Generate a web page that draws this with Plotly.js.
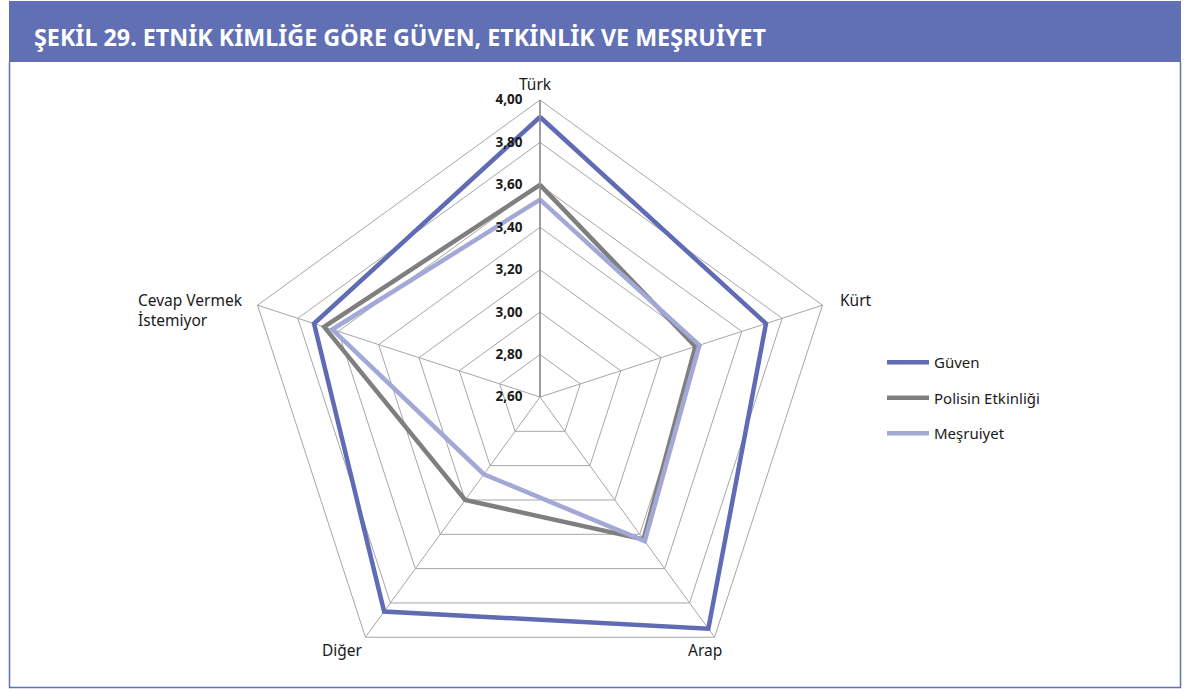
<!DOCTYPE html>
<html>
<head>
<meta charset="utf-8">
<script src="https://cdn.plot.ly/plotly-3.0.1.min.js"></script>
<style>
html,body{margin:0;padding:0;background:#fff;overflow:hidden;}
#chart{width:1184px;height:720px;}
</style>
</head>
<body>
<div id="chart"></div>
<script>
// ---- data ----
const categories = ['Türk', 'Kürt', 'Arap', 'Diğer', 'Cevap Vermek İstemiyor'];
const categoryLabels = ['Türk', 'Kürt', 'Arap', 'Diğer', 'Cevap Vermek<br>İstemiyor'];
const seriesNames = ['Güven', 'Polisin Etkinliği', 'Meşruiyet'];
const guven = [3.92, 3.72, 3.95, 3.85, 3.72];
const polisinEtkinligi = [3.60, 3.37, 3.43, 3.20, 3.67];
const mesruiyet = [3.53, 3.39, 3.44, 3.05, 3.63];
const radialTicks = [2.6, 2.8, 3.0, 3.2, 3.4, 3.6, 3.8, 4.0];
const titleText = 'ŞEKİL 29. ETNİK KİMLİĞE GÖRE GÜVEN, ETKİNLİK VE MEŞRUİYET';

// ---- layout helpers ----
const W = 1184, H = 720;
const px = x => x / W;
const py = y => (H - y) / H;
const cx = 540, cy = 397, R = 297;
const colors = ['#5F6BB3', '#7F7F7F', '#A3A9D6'];
const band = '#6170B4';
const FONT = 'Noto Sans, sans-serif';

function closed(a) { return a.concat([a[0]]); }
const allSeries = [guven, polisinEtkinligi, mesruiyet];

const traces = allSeries.map((vals, i) => ({
  type: 'scatterpolar',
  mode: 'lines',
  r: closed(vals),
  theta: closed(categories),
  name: seriesNames[i],
  legendgroup: 'g' + i,
  line: {color: colors[i], width: 4.5},
  hoverinfo: 'skip'
}));

// category label placement (text positions around the pentagon)
const catPos = [
  {x: 535, y: 84, xa: 'center'},
  {x: 838, y: 300, xa: 'left'},
  {x: 705, y: 650, xa: 'center'},
  {x: 342, y: 650, xa: 'center'},
  {x: 136, y: 310, xa: 'left'}
];

const annotations = [
  {text: '<b>' + titleText + '</b>', xref: 'paper', yref: 'paper', x: px(32), y: py(37),
    xanchor: 'left', yanchor: 'middle', showarrow: false,
    font: {family: FONT, size: 23.3, color: '#ffffff'}}
].concat(categoryLabels.map((t, i) => ({
  text: t, xref: 'paper', yref: 'paper', x: px(catPos[i].x), y: py(catPos[i].y),
  xanchor: catPos[i].xa, yanchor: 'middle', align: 'left', showarrow: false,
  font: {family: FONT, size: 15.5, color: '#1a1a1a'}
})));

const layout = {
  width: W, height: H,
  margin: {l: 0, r: 0, t: 0, b: 0, pad: 0},
  paper_bgcolor: '#ffffff',
  separators: ',.',
  font: {family: FONT, size: 14, color: '#1a1a1a'},
  showlegend: true,
  legend: {
    x: px(882), y: py(346), xanchor: 'left', yanchor: 'top',
    traceorder: 'grouped', tracegroupgap: 13,
    itemwidth: 42,
    font: {family: FONT, size: 15, color: '#1a1a1a'},
    bgcolor: 'rgba(0,0,0,0)'
  },
  polar: {
    domain: {x: [px(cx - R), px(cx + R)], y: [py(cy + R), py(cy - R)]},
    gridshape: 'linear',
    bgcolor: 'rgba(0,0,0,0)',
    radialaxis: {
      range: [2.6, 4.0],
      tickvals: radialTicks,
      tickformat: '.2f',
      angle: 90,
      side: 'counterclockwise',
      tickangle: 90,
      showline: true,
      linecolor: '#8c8c8c',
      linewidth: 1.5,
      gridcolor: '#a6a6a6',
      gridwidth: 1,
      ticks: 'outside',
      ticklen: 12,
      tickcolor: 'rgba(0,0,0,0)',
      ticklabelshift: 7,
      tickfont: {family: FONT, size: 13.5, color: '#1a1a1a', weight: 'bold'}
    },
    angularaxis: {
      type: 'category',
      categoryarray: categories,
      rotation: 90,
      direction: 'clockwise',
      showline: true,
      showticklabels: false,
      linecolor: '#a6a6a6',
      linewidth: 1,
      gridcolor: '#a6a6a6',
      gridwidth: 1,
      ticks: ''
    }
  },
  shapes: [
    {type: 'rect', xref: 'paper', yref: 'paper', x0: px(9), x1: px(1181), y0: py(62), y1: py(1),
      fillcolor: band, line: {width: 0}, layer: 'below'},
    {type: 'path', xref: 'paper', yref: 'paper',
      path: 'M' + px(9.5) + ',' + py(62) + ' L' + px(9.5) + ',' + py(687.5) + ' L' + px(1180.5) + ',' + py(687.5) + ' L' + px(1180.5) + ',' + py(62),
      line: {color: band, width: 1.5}, layer: 'below'}
  ],
  annotations: annotations
};

Plotly.newPlot('chart', traces, layout, {displayModeBar: false, staticPlot: true});
</script>
</body>
</html>
